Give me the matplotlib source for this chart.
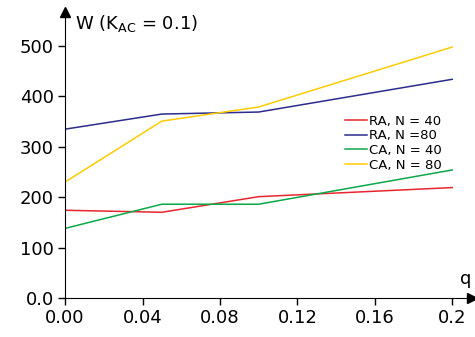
import matplotlib.pyplot as plt
import numpy as np

# q values and W for the four cases
q = [0.0, 0.05, 0.1, 0.2]
ra_40 = [174, 170, 201, 219]
ra_80 = [335, 365, 369, 434]
ca_40 = [138, 186, 186, 254]
ca_80 = [230, 351, 379, 498]

xticks = [0.0, 0.04, 0.08, 0.12, 0.16, 0.2]
xtick_labels = ['0.00', '0.04', '0.08', '0.12', '0.16', '0.2']
yticks = [0, 100, 200, 300, 400, 500]
ytick_labels = ['0.0', '100', '200', '300', '400', '500']

fig = plt.figure(figsize=(4.75, 3.37), dpi=100)
ax = fig.add_axes([0.137, 0.116, 0.857, 0.849])

ax.plot(q, ra_40, color='#e8262e', lw=1.1, label='RA, N = 40')
ax.plot(q, ra_80, color='#2b2c8c', lw=1.1, label='RA, N =80')
ax.plot(q, ca_40, color='#0ba84a', lw=1.1, label='CA, N = 40')
ax.plot(q, ca_80, color='#ffcc00', lw=1.1, label='CA, N = 80')

ax.set_xlim(0, 0.2103)
ax.set_ylim(0, 568)
ax.spines['top'].set_visible(False)
ax.spines['right'].set_visible(False)
ax.set_xticks(xticks)
ax.set_xticklabels(xtick_labels)
ax.set_yticks(yticks)
ax.set_yticklabels(ytick_labels)
ax.tick_params(direction='out', length=5, width=1, labelsize=13, pad=3)

# arrow heads on the axes
ax.plot(1, 0, '>k', ms=7, transform=ax.transAxes, clip_on=False)
ax.plot(0, 1, '^k', ms=7, transform=ax.transAxes, clip_on=False)

ax.text(0.025, 0.995, r'W (K$_{\mathrm{AC}}$ = 0.1)', transform=ax.transAxes,
        fontsize=13, va='top', ha='left')
ax.text(0.985, 0.035, 'q', transform=ax.transAxes, fontsize=13,
        va='bottom', ha='center')

ax.legend(loc='upper left', bbox_to_anchor=(0.687, 0.64), frameon=False,
          fontsize=9.5, handlelength=1.7, handletextpad=0.15,
          labelspacing=0.12, borderpad=0, borderaxespad=0)

fig.savefig('out.png', dpi=100)
